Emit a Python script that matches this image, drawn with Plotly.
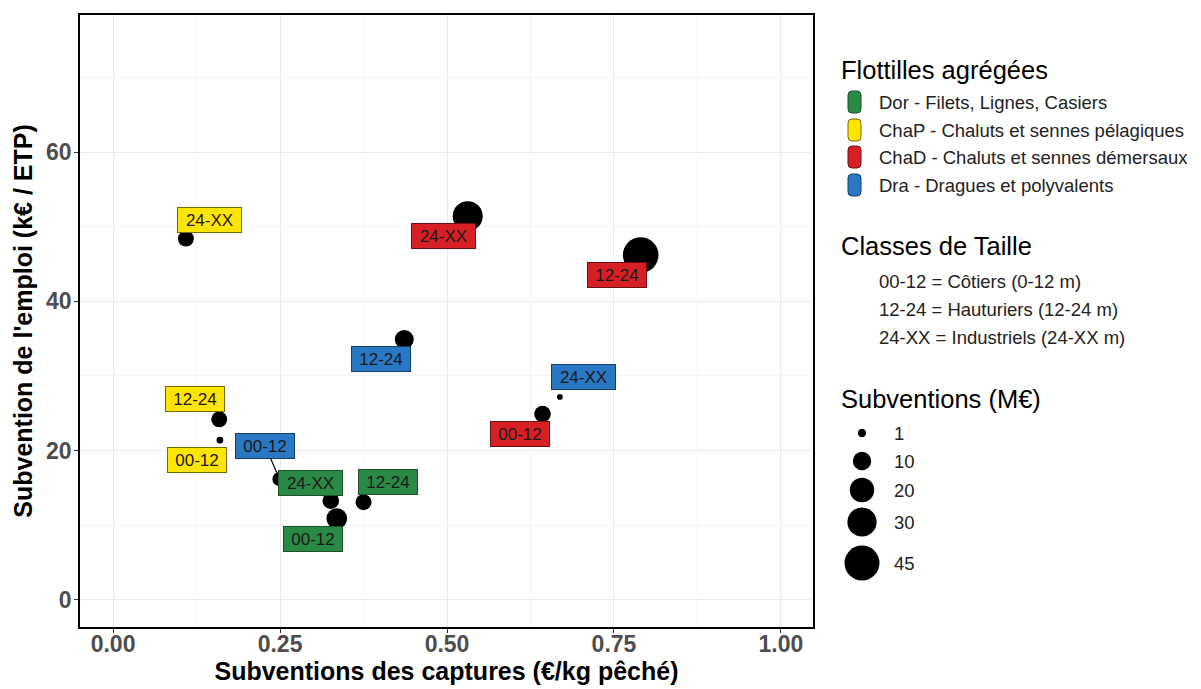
import plotly.graph_objects as go
import math

# ---------------- data ----------------
flottille = ["Dor", "Dor", "Dor", "ChaP", "ChaP", "ChaP",
             "ChaD", "ChaD", "ChaD", "Dra", "Dra", "Dra"]
taille = ["00-12", "12-24", "24-XX", "00-12", "12-24", "24-XX",
          "00-12", "12-24", "24-XX", "00-12", "12-24", "24-XX"]
subv_captures = [0.335, 0.375, 0.326, 0.160, 0.159, 0.109,
                 0.643, 0.790, 0.531, 0.249, 0.436, 0.669]
subv_emploi = [10.9, 13.1, 13.3, 21.4, 24.2, 48.4,
               24.9, 46.2, 51.4, 16.2, 34.9, 27.2]
subv_total = [13.4, 7.0, 7.8, 0.45, 7.0, 7.0,
              7.8, 47.0, 31.8, 4.9, 10.8, 0.2]

flottille_codes = ["Dor", "ChaP", "ChaD", "Dra"]
flottille_noms = ["Dor - Filets, Lignes, Casiers",
                  "ChaP - Chaluts et sennes pélagiques",
                  "ChaD - Chaluts et sennes démersaux",
                  "Dra - Dragues et polyvalents"]
classes_txt = ["00-12 = Côtiers (0-12 m)",
               "12-24 = Hauturiers (12-24 m)",
               "24-XX = Industriels (24-XX m)"]
size_breaks = [1, 10, 20, 30, 45]

x_ticks = [0.0, 0.25, 0.5, 0.75, 1.0]
x_ticklabels = ["0.00", "0.25", "0.50", "0.75", "1.00"]
y_ticks = [0, 20, 40, 60]

# ---------------- styles ----------------
couleurs = {"Dor": "#2a8a45", "ChaP": "#ffe500", "ChaD": "#d71f26", "Dra": "#2a78c4"}
bords = {"Dor": "#1d4f2a", "ChaP": "#7a6a00", "ChaD": "#6e1014", "Dra": "#173f66"}
# label offsets (pixels, repel-style placement)
lab_dx = [-24, 24, -20, -23, -24, 24, -23, -24, -24, -14, -23, 24]
lab_dy = [20, -20, -18, 20, -20, -19, 20, 20, 20, -33, 20, -20]

FONT = "Liberation Sans, Arial, sans-serif"


def diam(v):
    return 3.6 + 4.68 * math.sqrt(v)


# viewport geometry (page body has an 8px margin)
VW, VH, OFF = 1201, 689, 8
P_LEFT, P_RIGHT, P_TOP, P_BOTTOM = 80, 813, 15, 627
V_RIGHT = 1191
W, H = VW - OFF, VH - OFF
ML, MT = P_LEFT - OFF, P_TOP - OFF
MB = VH - P_BOTTOM
MR = VW - V_RIGHT
pw = W - ML - MR
main_dom = [0, (P_RIGHT - P_LEFT) / pw]
leg_left = 830
leg_dom = [(leg_left - P_LEFT) / pw, 1]

fig = go.Figure()

fig.add_trace(go.Scatter(
    x=subv_captures, y=subv_emploi, mode="markers",
    marker=dict(size=[diam(v) for v in subv_total], color="black",
                opacity=1, line=dict(width=0)),
    showlegend=False, hoverinfo="skip", cliponaxis=False))

annotations = []
for i in range(len(subv_captures)):
    f = flottille[i]
    t = taille[i]
    dist = math.hypot(lab_dx[i], lab_dy[i])
    seg = dist > 33
    annotations.append(dict(
        x=subv_captures[i], y=subv_emploi[i], xref="x", yref="y",
        text=t, showarrow=True, ax=lab_dx[i], ay=lab_dy[i],
        arrowhead=0, arrowwidth=1.2,
        arrowcolor="black" if seg else "rgba(0,0,0,0)",
        standoff=diam(subv_total[i]) / 2,
        bgcolor=couleurs[f], bordercolor=bords[f], borderwidth=1,
        borderpad=2, width=59 if "XX" in t else 54, height=20,
        font=dict(family=FONT, size=17, color="#1a1a1a")))

# ---------------- legend (drawn on a pixel-scaled helper axis) ----------------
leg_font = dict(family=FONT, size=25.5, color="black")
item_font = dict(family=FONT, size=18.5, color="#222")

annotations.append(dict(x=839, y=70, xref="x2", yref="y2", text="Flottilles agrégées",
                        showarrow=False, xanchor="left", yanchor="middle", font=leg_font))
shapes = []
key_y = [102, 130, 157, 185]
for code, nom, yy in zip(flottille_codes, flottille_noms, key_y):
    x0, x1 = 848, 861
    y0, y1 = yy - 11, yy + 11
    r = 4
    path = (f"M {x0+r},{y0} L {x1-r},{y0} Q {x1},{y0} {x1},{y0+r} "
            f"L {x1},{y1-r} Q {x1},{y1} {x1-r},{y1} L {x0+r},{y1} "
            f"Q {x0},{y1} {x0},{y1-r} L {x0},{y0+r} Q {x0},{y0} {x0+r},{y0} Z")
    shapes.append(dict(type="path", path=path, xref="x2", yref="y2",
                       fillcolor=couleurs[code], line=dict(color=bords[code], width=1)))
    annotations.append(dict(x=877, y=yy, xref="x2", yref="y2", text=nom,
                            showarrow=False, xanchor="left", yanchor="middle", font=item_font))

annotations.append(dict(x=839, y=246, xref="x2", yref="y2", text="Classes de Taille",
                        showarrow=False, xanchor="left", yanchor="middle", font=leg_font))
for txt, yy in zip(classes_txt, [281, 309, 337]):
    annotations.append(dict(x=877, y=yy, xref="x2", yref="y2", text=txt,
                            showarrow=False, xanchor="left", yanchor="middle", font=item_font))

annotations.append(dict(x=839, y=399, xref="x2", yref="y2", text="Subventions (M€)",
                        showarrow=False, xanchor="left", yanchor="middle", font=leg_font))
size_y = [433, 461, 490, 522, 563]
fig.add_trace(go.Scatter(
    x=[862] * len(size_breaks), y=size_y, xaxis="x2", yaxis="y2", mode="markers",
    marker=dict(size=[diam(v) for v in size_breaks], color="black", opacity=1,
                line=dict(width=0)),
    showlegend=False, hoverinfo="skip", cliponaxis=False))
for v, yy in zip(size_breaks, size_y):
    annotations.append(dict(x=892, y=yy, xref="x2", yref="y2", text=str(v),
                            showarrow=False, xanchor="left", yanchor="middle", font=item_font))

tickfont = dict(family=FONT, size=23, color="#4d4d4d", weight="bold")
titlefont = dict(family=FONT, size=25, color="black", weight="bold")

fig.update_layout(
    width=W, height=H, margin=dict(l=ML, r=MR, t=MT, b=MB, autoexpand=False),
    paper_bgcolor="white", plot_bgcolor="white",
    font=dict(family=FONT),
    showlegend=False,
    xaxis=dict(domain=main_dom, range=[-0.0495, 1.048], tickvals=x_ticks,
               ticktext=x_ticklabels, tickfont=tickfont, automargin=False,
               ticklabelstandoff=-8,
               title=dict(text="Subventions des captures (€/kg pêché)", font=titlefont, standoff=2),
               showgrid=True, gridcolor="#ebebeb", gridwidth=1,
               minor=dict(dtick=0.125, tick0=0, showgrid=True, gridcolor="#f5f5f5", gridwidth=1),
               showline=True, linecolor="black", linewidth=1.5, mirror=True,
               ticks="outside", ticklen=4, tickcolor="#333", zeroline=False),
    yaxis=dict(range=[-3.62, 78.35], tickvals=y_ticks, tickfont=tickfont, automargin=False,
               ticklabelstandoff=-2,
               title=dict(text="Subvention de l'emploi (k€ / ETP)", font=titlefont, standoff=6),
               showgrid=True, gridcolor="#ebebeb", gridwidth=1,
               minor=dict(dtick=10, tick0=0, showgrid=True, gridcolor="#f5f5f5", gridwidth=1),
               showline=True, linecolor="black", linewidth=1.5, mirror=True,
               ticks="outside", ticklen=4, tickcolor="#333", zeroline=False),
    xaxis2=dict(domain=leg_dom, range=[leg_left, V_RIGHT], anchor="y2",
                visible=False, fixedrange=True),
    yaxis2=dict(domain=[0, 1], range=[P_BOTTOM, P_TOP], anchor="x2",
                visible=False, fixedrange=True),
    annotations=annotations, shapes=shapes,
)

fig.write_html("out.html")
